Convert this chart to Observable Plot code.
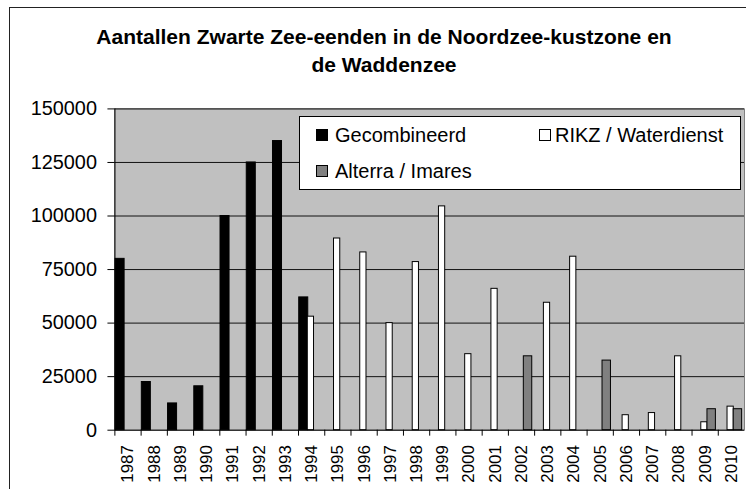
<!DOCTYPE html>
<html>
<head>
<meta charset="utf-8">
<script src="https://cdn.jsdelivr.net/npm/d3@7"></script>
<script src="https://cdn.jsdelivr.net/npm/@observablehq/plot@0.6"></script>
<style>
  html, body { margin: 0; padding: 0; background: #fff; }
  #wrap { position: relative; width: 746px; height: 489px; overflow: hidden; background: #fff;
          font-family: "Liberation Sans", Arial, sans-serif; }
  #border { position: absolute; left: 9px; top: 7px; width: 800px; height: 600px; border: 1px solid #222; box-sizing: border-box; }
  #title { position: absolute; left: 84px; top: 23px; width: 600px; text-align: center;
           font-weight: bold; font-size: 21px; line-height: 27.5px; color: #000; }
  #chart { position: absolute; left: 0; top: 0; }
  #legend { position: absolute; left: 299px; top: 116px; width: 442px; height: 74px; box-sizing: border-box;
            background: #fff; border: 1px solid #000; }
  .item { position: absolute; font-size: 20px; line-height: 20px; color: #000; white-space: nowrap; }
  .sw { position: absolute; width: 12px; height: 12px; box-sizing: border-box; border: 1px solid #000; }
</style>
</head>
<body>
<div id="wrap">
  <div id="border"></div>
  <div id="title"></div>
  <div id="chart"></div>
  <div id="legend"></div>
</div>
<script>
const titleLines = ["Aantallen Zwarte Zee-eenden in de Noordzee-kustzone en", "de Waddenzee"];
const years = ["1987","1988","1989","1990","1991","1992","1993","1994","1995","1996","1997","1998",
               "1999","2000","2001","2002","2003","2004","2005","2006","2007","2008","2009","2010"];
const seriesNames = ["Gecombineerd", "RIKZ / Waterdienst", "Alterra / Imares"];
const seriesColors = ["#000000", "#ffffff", "#808080"];
const gecombineerd = [80000, 22500, 12500, 20500, 100000, 125000, 135000, 62000,
                      null, null, null, null, null, null, null, null, null, null, null, null, null, null, null, null];
const rikz = [null, null, null, null, null, null, null, 53000,
              89500, 83000, 50000, 78500, 104500, 35500, 66000, null, 59500, 81000, null, 7000, 8000, 34500, 3700, 11000];
const alterra = [null, null, null, null, null, null, null, null, null, null, null, null,
                 null, null, null, 34500, null, null, 32500, null, null, null, 9800, 9800];
const yTicks = [0, 25000, 50000, 75000, 100000, 125000, 150000];

document.getElementById("title").innerHTML = titleLines.join("<br>");

const W = 750, H = 489, mL = 115, mR = 2, mT = 109, mB = 57;
const bw = (W - mL - mR) / years.length;
const series = [gecombineerd, rikz, alterra];
const insets = [[0.7, 16.6], [9.3, 10.8], [15.5, 2.4]];

const barMarks = series.map((vals, s) =>
  Plot.barY(years, {
    filter: (d, i) => vals[i] != null,
    x: d => d,
    y: (d, i) => vals[years.indexOf(d)],
    fill: seriesColors[s],
    stroke: "#000",
    strokeWidth: 1,
    insetLeft: insets[s][0],
    insetRight: insets[s][1]
  })
);

const chart = Plot.plot({
  width: W, height: H,
  marginLeft: mL, marginRight: mR, marginTop: mT, marginBottom: mB,
  style: { background: "transparent", fontFamily: "'Liberation Sans', Arial, sans-serif", color: "#000" },
  x: { type: "band", domain: years, padding: 0, round: false },
  y: { domain: [0, 150000] },
  marks: [
    Plot.frame({ fill: "#c0c0c0", stroke: "#808080" }),
    Plot.ruleY(yTicks.slice(1), { stroke: "#111", strokeWidth: 1 }),
    ...barMarks,
    Plot.ruleY([0], { stroke: "#000" }),
    Plot.ruleX([years[0]], { x: d => d, dx: -bw / 2, y1: 0, y2: 150000, stroke: "#000" }),
    Plot.axisY({ ticks: yTicks, tickSize: 7, tickPadding: 11, tickFormat: d => String(d), fontSize: 20, label: null }),
    Plot.axisX({ tickSize: 6, tickFormat: () => "", dx: -bw / 2, label: null }),
    Plot.axisX({ tickSize: 0, tickPadding: 15, tickRotate: -90, fontSize: 17, label: null })
  ]
});
document.getElementById("chart").appendChild(chart);

// legend
const legend = document.getElementById("legend");
const legendPos = [[17, 13, 36], [240, 13, 256], [17, 49, 36]]; // swatch x, swatch y, text x (relative to box)
seriesNames.forEach((name, s) => {
  const [sx, sy, tx] = legendPos[s];
  const sw = document.createElement("div");
  sw.className = "sw";
  sw.style.left = (sx - 1) + "px";
  sw.style.top = (sy - 1) + "px";
  sw.style.background = seriesColors[s];
  legend.appendChild(sw);
  const t = document.createElement("div");
  t.className = "item";
  t.textContent = name;
  t.style.left = (tx - 1) + "px";
  t.style.top = (sy - 5) + "px";
  legend.appendChild(t);
});
</script>
</body>
</html>
